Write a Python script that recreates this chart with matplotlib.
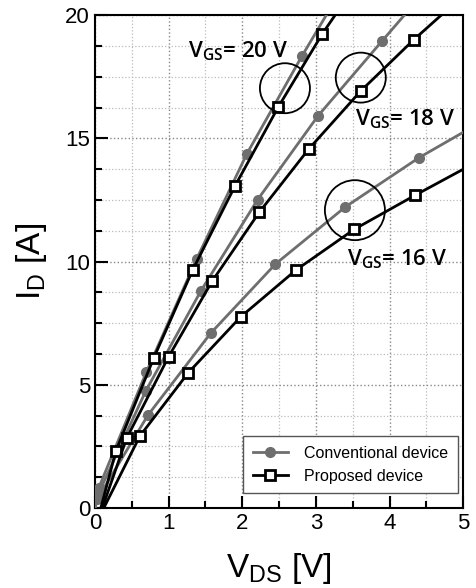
import matplotlib
matplotlib.use('Agg')
import matplotlib.pyplot as plt
from matplotlib.patches import Ellipse
from matplotlib.ticker import MultipleLocator

# Conventional device (gray, filled circles)
conv_20_x = [0.0, 0.05, 0.70, 1.38, 2.06, 2.81, 3.14]
conv_20_y = [0.0, 0.80, 5.53, 10.1, 14.36, 18.34, 20.0]
conv_18_x = [0.0, 0.05, 0.69, 1.44, 2.21, 3.03, 3.90, 4.20]
conv_18_y = [0.0, 0.60, 4.75, 8.82, 12.52, 15.92, 18.96, 20.0]
conv_16_x = [0.0, 0.03, 0.72, 1.57, 2.45, 3.40, 4.40, 5.0]
conv_16_y = [0.0, 0.35, 3.77, 7.09, 9.90, 12.22, 14.22, 15.25]

# Proposed device (black, open squares)
prop_20_x = [0.08, 0.285, 0.80, 1.33, 1.90, 2.49, 3.09, 3.26]
prop_20_y = [0.0, 2.32, 6.10, 9.68, 13.06, 16.28, 19.26, 20.0]
prop_18_x = [0.10, 0.43, 1.00, 1.59, 2.23, 2.90, 3.61, 4.33, 4.70]
prop_18_y = [0.0, 2.83, 6.14, 9.20, 12.00, 14.56, 16.93, 19.01, 20.0]
prop_16_x = [0.12, 0.61, 1.27, 1.98, 2.73, 3.52, 4.35, 5.0]
prop_16_y = [0.0, 2.92, 5.50, 7.76, 9.66, 11.31, 12.70, 13.75]

gate_labels = ['V$_{GS}$= 20 V', 'V$_{GS}$= 18 V', 'V$_{GS}$= 16 V']


def inner_points(x, y):
    # first and last points are only line ends, the rest carry markers
    return [m for m in range(1, len(x)) if not (y[m] >= 20 or x[m] >= 5)]


def main():
    plt.rcParams['font.family'] = ['Liberation Sans', 'DejaVu Sans']
    plt.rcParams['mathtext.default'] = 'regular'

    fig = plt.figure(figsize=(4.77, 5.88), dpi=100)
    ax = fig.add_axes([0.199, 0.136, 0.772, 0.838])

    gray = '#6e6e6e'
    conv = [(conv_20_x, conv_20_y), (conv_18_x, conv_18_y), (conv_16_x, conv_16_y)]
    prop = [(prop_20_x, prop_20_y), (prop_18_x, prop_18_y), (prop_16_x, prop_16_y)]

    for i, (x, y) in enumerate(conv):
        ax.plot(x, y, '-', color=gray, lw=2, marker='o', markersize=7,
                markevery=inner_points(x, y), markerfacecolor=gray, markeredgecolor=gray,
                label='Conventional device' if i == 0 else None, zorder=3)
    for i, (x, y) in enumerate(prop):
        ax.plot(x, y, '-', color='black', lw=2, marker='s', markersize=6.5,
                markevery=inner_points(x, y), markerfacecolor='white', markeredgecolor='black',
                markeredgewidth=2, label='Proposed device' if i == 0 else None, zorder=4)

    # circles marking each pair (radius in pixels converted to data units)
    px_x = 5 / 368.0
    px_y = 20 / 493.0
    for cx, cy, r in [(2.58, 17.04, 25), (3.61, 17.47, 25), (3.53, 12.09, 30)]:
        ax.add_patch(Ellipse((cx, cy), 2 * r * px_x, 2 * r * px_y, fill=False,
                             edgecolor='black', lw=1.3, zorder=5))

    text_pos = [(1.26, 18.55), (3.53, 15.8), (3.42, 10.1)]
    for (tx, ty), lab in zip(text_pos, gate_labels):
        ax.text(tx, ty, lab, fontsize=16, fontweight='semibold', family=['Open Sans', 'DejaVu Sans'],
                va='center', ha='left', zorder=6)

    ax.set_xlim(0, 5)
    ax.set_ylim(0, 20)
    ax.xaxis.set_major_locator(MultipleLocator(1))
    ax.xaxis.set_minor_locator(MultipleLocator(0.5))
    ax.yaxis.set_major_locator(MultipleLocator(5))
    ax.yaxis.set_minor_locator(MultipleLocator(1.25))
    ax.tick_params(which='both', direction='in', top=False, right=False, labelsize=16, width=1.5)
    ax.tick_params(which='major', length=9)
    ax.tick_params(which='minor', length=5)
    ax.grid(which='major', linestyle=':', color='#888888', lw=1)
    ax.grid(which='minor', linestyle=':', color='#bbbbbb', lw=0.9)
    ax.set_axisbelow(True)
    for s in ax.spines.values():
        s.set_linewidth(1.5)

    ax.set_xlabel('V$_{DS}$ [V]', fontsize=24, labelpad=12)
    ax.set_ylabel('I$_D$ [A]', fontsize=24, labelpad=12)

    leg = ax.legend(loc='lower right', bbox_to_anchor=(0.985, 0.03), fontsize=11.5,
                    fancybox=False, framealpha=1, edgecolor='#555555', handlelength=2.2,
                    borderpad=0.6, handletextpad=1.0, borderaxespad=0)
    leg.get_frame().set_linewidth(1)

    fig.savefig('out.png', dpi=100)


if __name__ == '__main__':
    main()
